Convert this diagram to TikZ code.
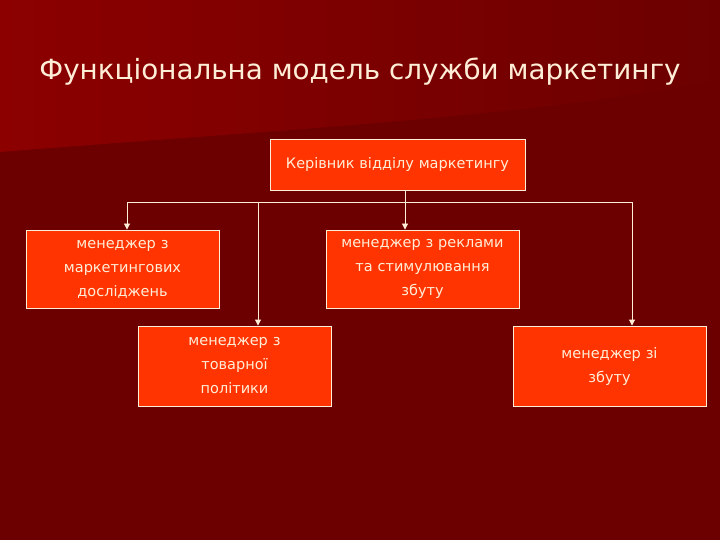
\documentclass[tikz,border=0pt]{standalone}
\usepackage{fontspec}
\setmainfont{DejaVu Sans}
\usepackage{tikz}
\usetikzlibrary{arrows.meta}

\definecolor{bgdark}{RGB}{108,0,0}
\definecolor{bglight}{RGB}{140,0,0}
\definecolor{boxfill}{RGB}{255,52,0}
\definecolor{ink}{RGB}{255,238,215}

\tikzset{
	post/.style={draw=ink, line width=0.9pt, fill=boxfill, text=ink, align=center,
		minimum width=193pt, minimum height=78pt, text width=186pt,
		font=\fontsize{14.5}{24}\selectfont, inner sep=0pt},
	link/.style={draw=ink, line width=0.9pt},
	drop/.style={link, -{Triangle[length=6pt, width=6pt]}}
}

\begin{document}
\begin{tikzpicture}[x=1pt, y=-1pt]
	\useasboundingbox (0,0) rectangle (720,540);
	\fill[bgdark] (0,0) rectangle (720,540);
	\shade[left color=bglight, right color=bgdark] (0,0) -- (720,0) -- (720,80) .. controls (520,118) and (300,128) .. (0,152) -- cycle;
	\node[text=ink, font=\fontsize{27.8}{32}\selectfont] (title) at (360,72) {Функціональна модель служби маркетингу};
	% boss and the four managers
	\node[post, minimum width=255pt, minimum height=51pt, text width=245pt] (boss) at (397.5,164.5) {Керівник відділу маркетингу};
	\node[post] (research) at (122.5,269) {менеджер з\\ маркетингових\\ досліджень};
	\node[post] (ads) at (422.5,269) {менеджер з реклами\\ та стимулювання\\ збуту};
	\node[post, minimum height=80pt] (goods) at (234.5,366) {менеджер з\\ товарної\\ політики};
	\node[post, minimum height=80pt] (sales) at (609.5,366) {менеджер зі\\ збуту};
	% connectors
	\coordinate (busL) at (127,202);
	\coordinate (busG) at (258,202);
	\coordinate (busA) at (405,202);
	\coordinate (busR) at (632,202);
	\draw[link] (busL) -- (busR);
	\draw[drop] (boss.south -| busA) -- (ads.north -| busA);
	\draw[drop] (busL) -- (research.north -| busL);
	\draw[drop] (busG) -- (goods.north -| busG);
	\draw[drop] (busR) -- (sales.north -| busR);
\end{tikzpicture}
\end{document}
